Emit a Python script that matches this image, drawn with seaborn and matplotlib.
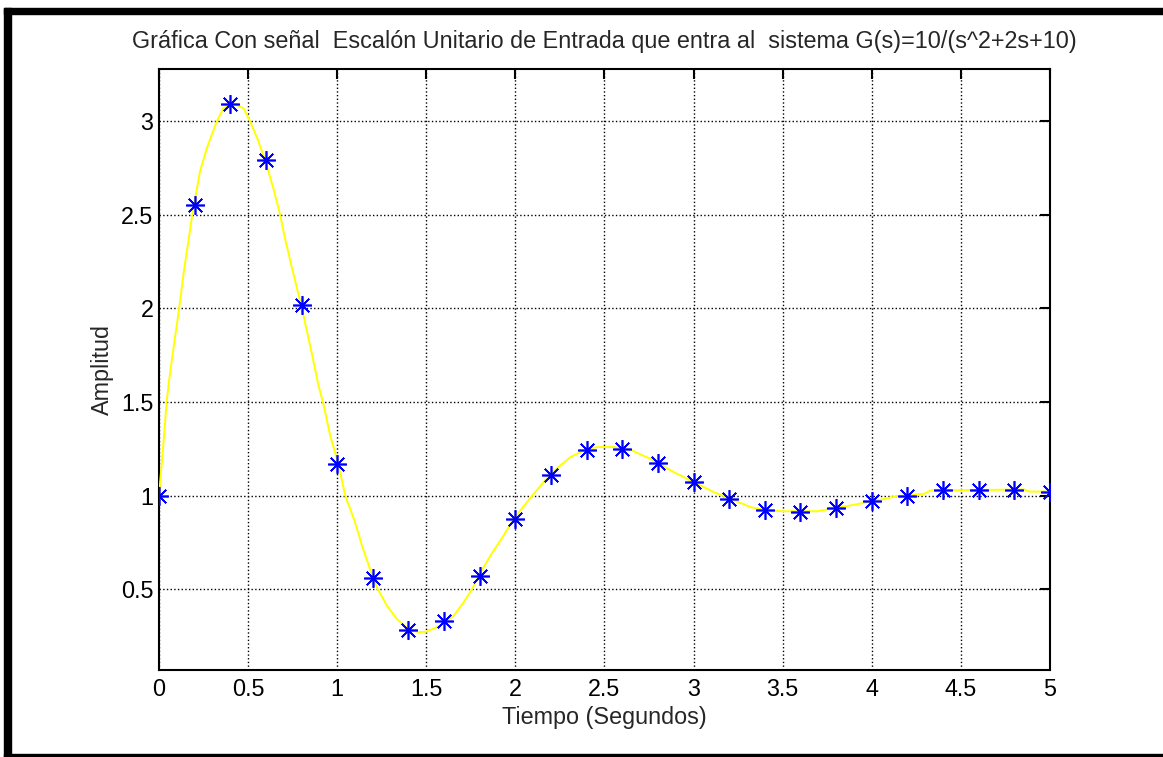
import numpy as np
import pandas as pd
import seaborn as sns
import matplotlib.pyplot as plt
from matplotlib.patches import Rectangle

t_pts = [0, 0.2, 0.4, 0.6, 0.8, 1.0, 1.2, 1.4, 1.6, 1.8, 2.0, 2.2, 2.4,
         2.6, 2.8, 3.0, 3.2, 3.4, 3.6, 3.8, 4.0, 4.2, 4.4, 4.6, 4.8, 5.0]
y_pts = [1.0, 2.55, 3.09, 2.79, 2.015, 1.17, 0.558, 0.283, 0.332, 0.569, 0.875, 1.112, 1.243,
         1.25, 1.173, 1.072, 0.982, 0.924, 0.911, 0.934, 0.973, 1.0, 1.03, 1.03, 1.03, 1.018]

# continuous (yellow) curve
t_line = [0, 0.024, 0.043, 0.058, 0.073, 0.114, 0.14, 0.187, 0.23, 0.268, 0.324, 0.361,
          0.418, 0.474, 0.506, 0.552, 0.596, 0.642, 0.68, 0.708, 0.745, 0.80, 0.848, 0.895,
          0.92, 0.961, 1.004, 1.045, 1.10, 1.139, 1.20, 1.228, 1.279, 1.335, 1.40, 1.457,
          1.50, 1.579, 1.654, 1.71, 1.757, 1.794, 1.86, 1.934, 1.99, 2.08, 2.197, 2.309,
          2.403, 2.468, 2.552, 2.646, 2.758, 2.889, 3.0, 3.114, 3.208, 3.32, 3.414, 3.507,
          3.695, 3.788, 3.882, 3.994, 4.07, 4.144, 4.294, 4.33, 4.856, 4.884, 5.0]
y_line = [1.0, 1.267, 1.5, 1.624, 1.73, 2.007, 2.2, 2.5, 2.73, 2.854, 2.997, 3.068,
          3.095, 3.068, 3.01, 2.907, 2.79, 2.64, 2.5, 2.37, 2.22, 2.007, 1.802, 1.588,
          1.5, 1.32, 1.178, 1.0, 0.858, 0.733, 0.564, 0.5, 0.412, 0.34, 0.287, 0.27,
          0.273, 0.305, 0.358, 0.43, 0.5, 0.572, 0.679, 0.786, 0.875, 0.982, 1.116, 1.205,
          1.25, 1.259, 1.259, 1.244, 1.196, 1.125, 1.072, 1.018, 0.982, 0.938, 0.92, 0.916,
          0.916, 0.933, 0.947, 0.968, 0.982, 0.997, 1.009, 1.027, 1.032, 1.021, 1.021]

x_ticks = [0, 0.5, 1, 1.5, 2, 2.5, 3, 3.5, 4, 4.5, 5]
x_ticklabels = ['0', '0.5', '1', '1.5', '2', '2.5', '3', '3.5', '4', '4.5', '5']
y_ticks = [0.5, 1, 1.5, 2, 2.5, 3]
y_ticklabels = ['0.5', '1', '1.5', '2', '2.5', '3']

title = 'Gráfica Con señal  Escalón Unitario de Entrada que entra al  sistema G(s)=10/(s^2+2s+10)'

sns.set_style('white')
plt.rcParams['font.family'] = ['Liberation Sans', 'DejaVu Sans']
fs = 16.8

line_df = pd.DataFrame({'t': t_line, 'y': y_line})
pts_df = pd.DataFrame({'t': t_pts, 'y': y_pts})

fig = plt.figure(figsize=(11.63, 7.57), dpi=100)
ax = fig.add_axes([0.1367, 0.1149, 0.7661, 0.794])

sns.lineplot(data=line_df, x='t', y='y', color='#FFFF00', linewidth=1.4, ax=ax, zorder=3)
sns.lineplot(data=pts_df, x='t', y='y', ax=ax, linestyle='none', marker=(8, 2, 0),
             markersize=13.5, markeredgecolor='#0000FF', markeredgewidth=1.2,
             color='#0000FF', zorder=4)

ax.set_xlim(0, 5)
ax.set_ylim(0.068, 3.278)
ax.set_xticks(x_ticks)
ax.set_xticklabels(x_ticklabels)
ax.set_yticks(y_ticks)
ax.set_yticklabels(y_ticklabels)

ax.grid(True, linestyle=':', color='black', linewidth=1.0)
for s in ax.spines.values():
    s.set_visible(True)
    s.set_linewidth(1.5)
    s.set_color('black')
ax.tick_params(direction='in', length=7, width=1.5, top=True, right=True,
               labelsize=fs, colors='black')
ax.tick_params(axis='x', pad=6)
ax.tick_params(axis='y', pad=4)

ax.set_title(title, fontsize=fs, pad=15)
ax.set_xlabel('Tiempo (Segundos)', fontsize=fs)
ax.set_ylabel('Amplitud', fontsize=fs)
ax.xaxis.set_label_coords(0.5, -0.06)
ax.yaxis.set_label_coords(-0.051, 0.5)

# thick frame on the left, top and bottom edges
W, H = 1163, 757
fig.patches.append(Rectangle((4 / W, 1 - 14 / H), 1, 6 / H, transform=fig.transFigure,
                             color='black', zorder=10))
fig.patches.append(Rectangle((4 / W, 0), 7 / W, 1 - 8 / H, transform=fig.transFigure,
                             color='black', zorder=10))
fig.patches.append(Rectangle((4 / W, 0), 1, 3 / H, transform=fig.transFigure,
                             color='black', zorder=10))

plt.savefig('out.png', dpi=100)
plt.close()
